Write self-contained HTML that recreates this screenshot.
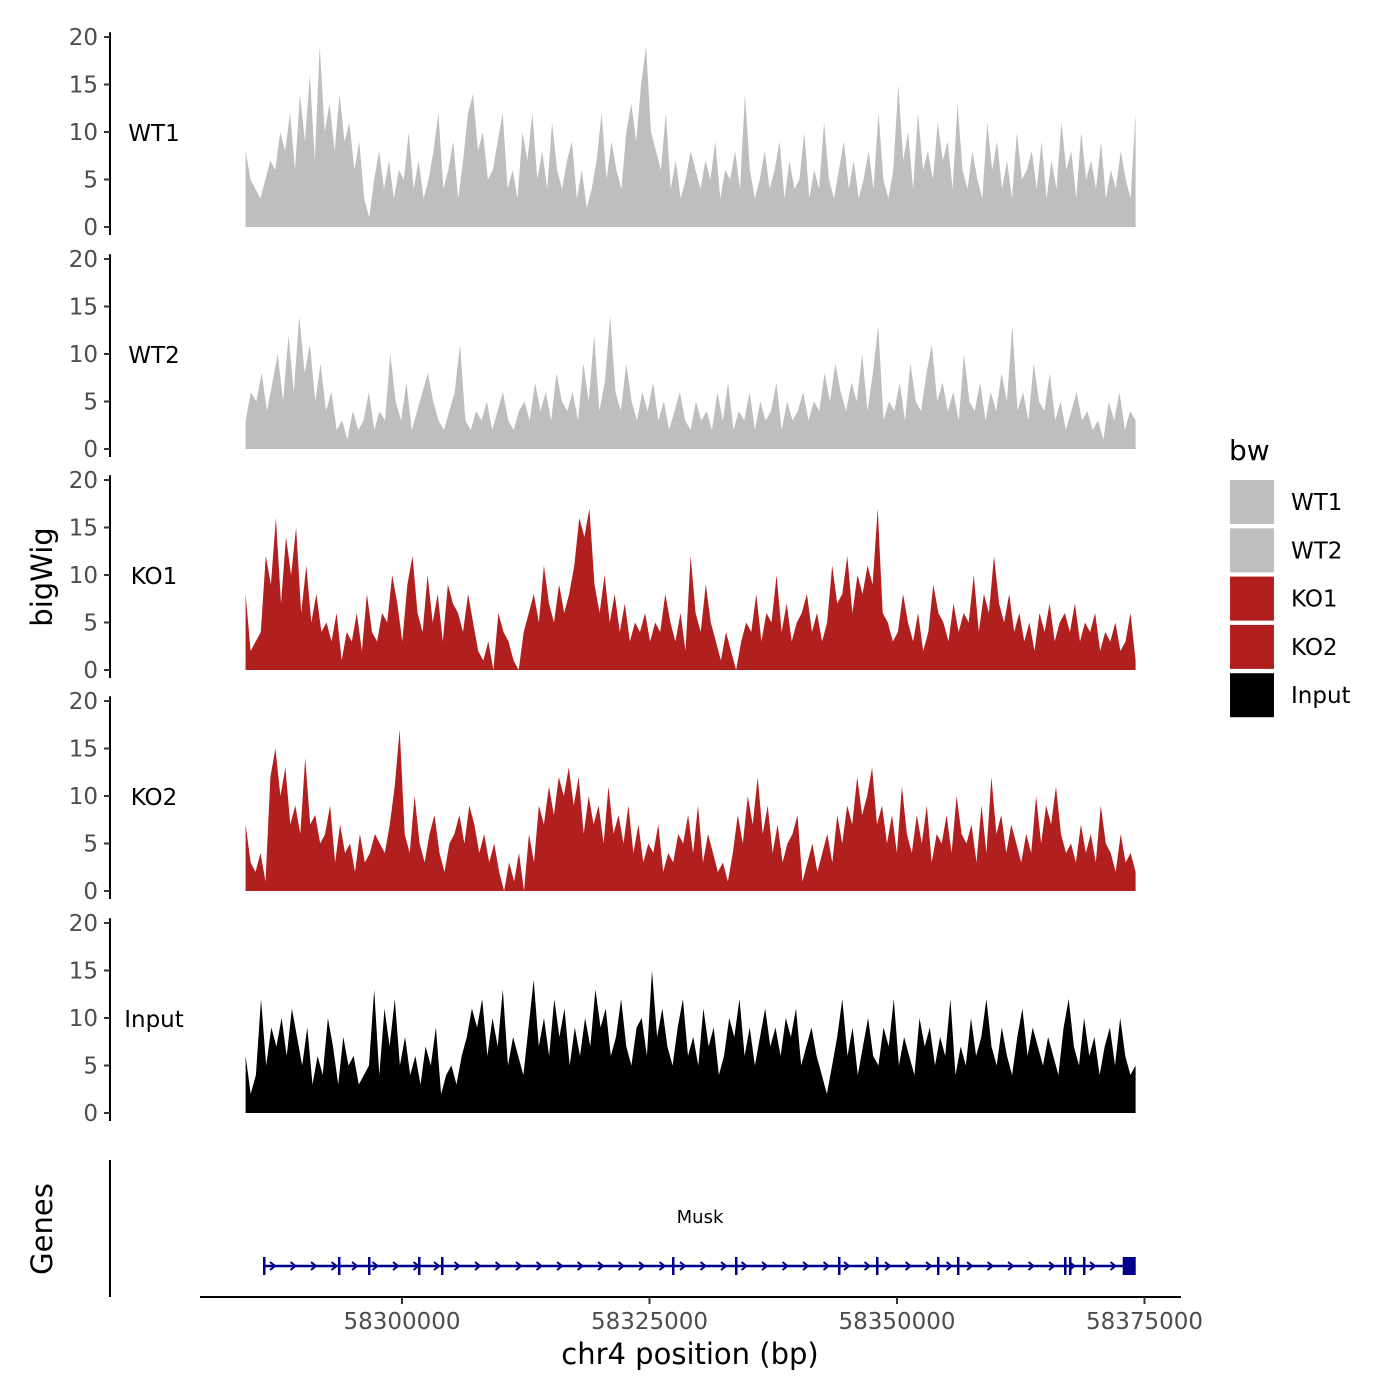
<!DOCTYPE html>
<html><head><meta charset="utf-8"><style>
body{margin:0;background:#fff}
svg{display:block;font-family:"DejaVu Sans","Liberation Sans",sans-serif}
</style></head><body>
<svg id="chart" width="1400" height="1400">
<rect width="1400" height="1400" fill="#fff"/>
<g id="tracks"></g>
<g id="genes"></g>
<line x1="110" y1="1160" x2="110" y2="1297" stroke="#000" stroke-width="2"/>
<line x1="200" y1="1297" x2="1181" y2="1297" stroke="#000" stroke-width="2"/>
<g id="xticks"></g>
<text x="690" y="1364" font-size="29" text-anchor="middle">chr4 position (bp)</text>
<text transform="translate(52,577) rotate(-90)" font-size="29" text-anchor="middle">bigWig</text>
<text transform="translate(52,1229) rotate(-90)" font-size="29" text-anchor="middle">Genes</text>
<text x="700" y="1223" font-size="18" text-anchor="middle">Musk</text>
<text x="1229" y="460" font-size="28">bw</text>
<g id="legend"></g>
</svg>
<script>
const trackNames=["WT1","WT2","KO1","KO2","Input"];
const trackColors=["#bebebe","#bebebe","#b21f1f","#b21f1f","#000000"];
const yTicks=[0,5,10,15,20];
const xTicks=[58300000,58325000,58350000,58375000];
const startBp=58284200, endBp=58374100;
const wt1=[8,5,4,3,5,7,6,10,8,12,6,14,9,16,7,19,10,13,8,14,9,11,6,9,3,1,5,8,4,7,3,6,5,10,4,7,3,5,8,12,4,6,9,3,7,12,14,8,10,5,6,9,12,4,6,3,10,7,12,5,8,4,11,6,4,7,9,3,6,2,4,7,12,5,9,6,4,10,13,9,15,19,10,8,6,12,4,7,3,5,8,6,4,7,5,9,3,6,5,8,4,14,6,3,5,8,4,6,9,3,7,4,5,10,3,6,4,11,5,3,6,9,4,7,3,5,8,4,12,5,3,6,15,7,10,4,12,6,8,5,11,7,9,4,13,6,4,8,5,3,11,6,9,4,7,3,10,5,6,8,4,9,3,7,4,11,6,8,3,10,5,7,4,9,3,6,4,8,5,3,12];
const wt2=[3,6,5,8,4,7,10,5,12,6,14,8,11,5,9,4,6,2,3,1,4,2,3,6,2,4,3,10,5,3,7,2,4,6,8,5,3,2,4,6,11,3,2,4,3,5,2,4,6,3,2,4,5,3,7,4,6,3,8,5,4,6,3,9,5,12,4,7,14,6,4,9,5,3,6,4,7,3,5,2,4,6,3,2,5,3,4,2,6,3,7,2,4,3,6,2,5,3,4,7,2,5,3,4,6,3,5,4,8,5,9,6,4,7,5,10,4,8,13,3,5,4,7,3,9,5,4,8,11,5,7,4,6,3,10,5,4,7,3,6,4,8,5,13,4,6,3,9,5,4,8,3,5,2,4,6,3,4,2,3,1,5,3,6,2,4,3];
const ko1=[8,2,3,4,12,9,16,7,14,10,15,6,11,5,8,4,5,3,6,1,4,3,6,2,8,4,3,6,5,10,7,3,9,12,6,4,10,5,8,3,9,7,6,4,8,5,2,1,3,0,6,4,3,1,0,4,6,8,5,11,7,5,9,6,8,11,16,14,17,9,6,10,5,8,4,7,3,5,4,6,3,5,4,8,5,3,6,2,12,6,4,9,5,3,1,4,2,0,3,5,4,8,3,6,5,10,4,7,3,5,6,8,4,6,3,5,11,7,8,12,6,10,8,11,9,17,6,5,3,4,8,5,3,6,2,4,9,6,5,3,7,4,6,5,10,4,8,6,12,7,5,8,4,6,3,5,2,6,4,7,3,5,6,4,7,3,5,4,6,2,4,3,5,2,3,6,1];
const ko2=[7,3,2,4,1,12,15,10,13,7,9,6,14,7,8,5,6,9,3,7,4,5,2,6,3,4,6,5,4,7,11,17,6,4,10,5,3,6,8,4,2,5,6,8,5,9,7,4,6,3,5,2,0,3,1,4,0,6,3,9,7,11,8,12,10,13,9,12,6,10,7,9,5,11,6,8,5,9,4,7,3,5,4,7,2,4,3,6,5,8,4,9,3,6,4,2,3,1,4,8,5,10,7,12,6,9,4,7,3,5,6,8,1,3,5,2,4,6,3,8,5,9,7,12,8,10,13,7,9,5,8,4,11,6,4,8,5,9,3,6,5,8,4,10,6,5,7,3,9,4,12,6,8,4,7,5,3,6,4,10,5,9,7,11,6,4,5,3,7,4,6,3,9,5,4,2,6,3,4,2];
const inp=[6,2,4,12,5,9,7,10,6,11,8,5,9,3,6,4,10,7,3,8,5,6,3,4,5,13,4,11,7,12,5,8,4,6,3,7,5,9,2,4,5,3,6,8,11,9,12,6,10,7,13,5,8,6,4,9,14,7,10,6,12,8,11,5,9,6,10,7,13,9,11,6,8,12,7,5,9,10,6,15,8,11,7,5,9,12,6,8,5,11,7,9,4,6,10,8,12,6,9,5,8,11,7,9,6,10,8,11,5,7,9,6,4,2,5,8,12,6,9,4,7,10,6,5,9,7,12,5,8,6,4,10,7,9,5,8,6,12,4,7,5,10,6,8,12,7,5,9,6,4,8,11,6,9,7,5,8,6,4,9,12,7,5,10,6,8,4,7,9,5,10,6,4,5];
const trackData=[wt1,wt2,ko1,ko2,inp];
const baseY=[227,449,670,891,1113];
const yUnit=9.5;
const xScale=bp=>402+(bp-58300000)*247.5/25000;
const NS="http://www.w3.org/2000/svg";
function mk(tag,attrs,parent){const e=document.createElementNS(NS,tag);for(const k in attrs)e.setAttribute(k,attrs[k]);parent.appendChild(e);return e;}
const tracks=document.getElementById("tracks");
trackNames.forEach((nm,t)=>{
  const g=mk("g",{},tracks);
  
  
  const by=baseY[t];
  const yS=v=>by-v*yUnit;
  const ax=mk("line",{x1:110,x2:110,y1:yS(20.5),y2:by+8,stroke:"#000","stroke-width":2},g);
  
  
  yTicks.forEach(v=>{
    mk("line",{x1:104,x2:110,y1:yS(v),y2:yS(v),stroke:"#333","stroke-width":2},g);
    const tx=mk("text",{x:98,y:yS(v)+8,"font-size":23,fill:"#4d4d4d","text-anchor":"end"},g);
    tx.textContent=v;
    
    
  });
  const d=trackData[t];
  const step=(endBp-startBp)/(d.length-1);
  let p="M"+xScale(startBp)+","+by;
  d.forEach((v,i)=>{p+=" L"+xScale(startBp+i*step).toFixed(1)+","+yS(v).toFixed(1);});
  p+=" L"+xScale(endBp).toFixed(1)+","+by+" Z";
  const ar=mk("path",{d:p,fill:trackColors[t]},g);
  
  
  const lb=mk("text",{x:154,y:yS(10)+9,"font-size":23,"text-anchor":"middle"},g);
  lb.textContent=nm;
  
  
});
const xt=document.getElementById("xticks");
xTicks.forEach(v=>{
  const x=xScale(v);
  mk("line",{x1:x,x2:x,y1:1297,y2:1304,stroke:"#333","stroke-width":2},xt);
  const tx=mk("text",{x:x,y:1329,"font-size":23,fill:"#4d4d4d","text-anchor":"middle"},xt);
  tx.textContent=v;
  
  
});
const geneStart=58285960, geneEnd=58374100;
const exons=[58285960,58293535,58296566,58301616,58303940,58327272,58333636,58344040,58347879,58354040,58356060,58366869,58367374,58368788,58372800];
const gg=document.getElementById("genes");
const gy=1266;
mk("line",{x1:xScale(geneStart),x2:xScale(geneEnd),y1:gy,y2:gy,stroke:"#00008b","stroke-width":2.5},gg);
for(let x=xScale(geneStart)+10;x<xScale(geneEnd)-10;x+=20.5){
  mk("path",{d:`M${x-3},${gy-4} L${x+2},${gy} L${x-3},${gy+4}`,stroke:"#00008b","stroke-width":2,fill:"none"},gg);
}
exons.forEach((b,i)=>{
  const x=xScale(b);
  const w=i===exons.length-1?13:2.5;
  const r=mk("rect",{x:x,y:gy-9,width:w,height:18,fill:"#00008b"},gg);
  
  
});
const lg=document.getElementById("legend");
trackNames.forEach((nm,i)=>{
  const y=480+i*48.3;
  const r=mk("rect",{x:1230,y:y,width:44,height:44,fill:trackColors[i]},lg);
  
  
  const tx=mk("text",{x:1291,y:y+30,"font-size":23},lg);
  tx.textContent=nm;
  
  
});
</script>
</body></html>
